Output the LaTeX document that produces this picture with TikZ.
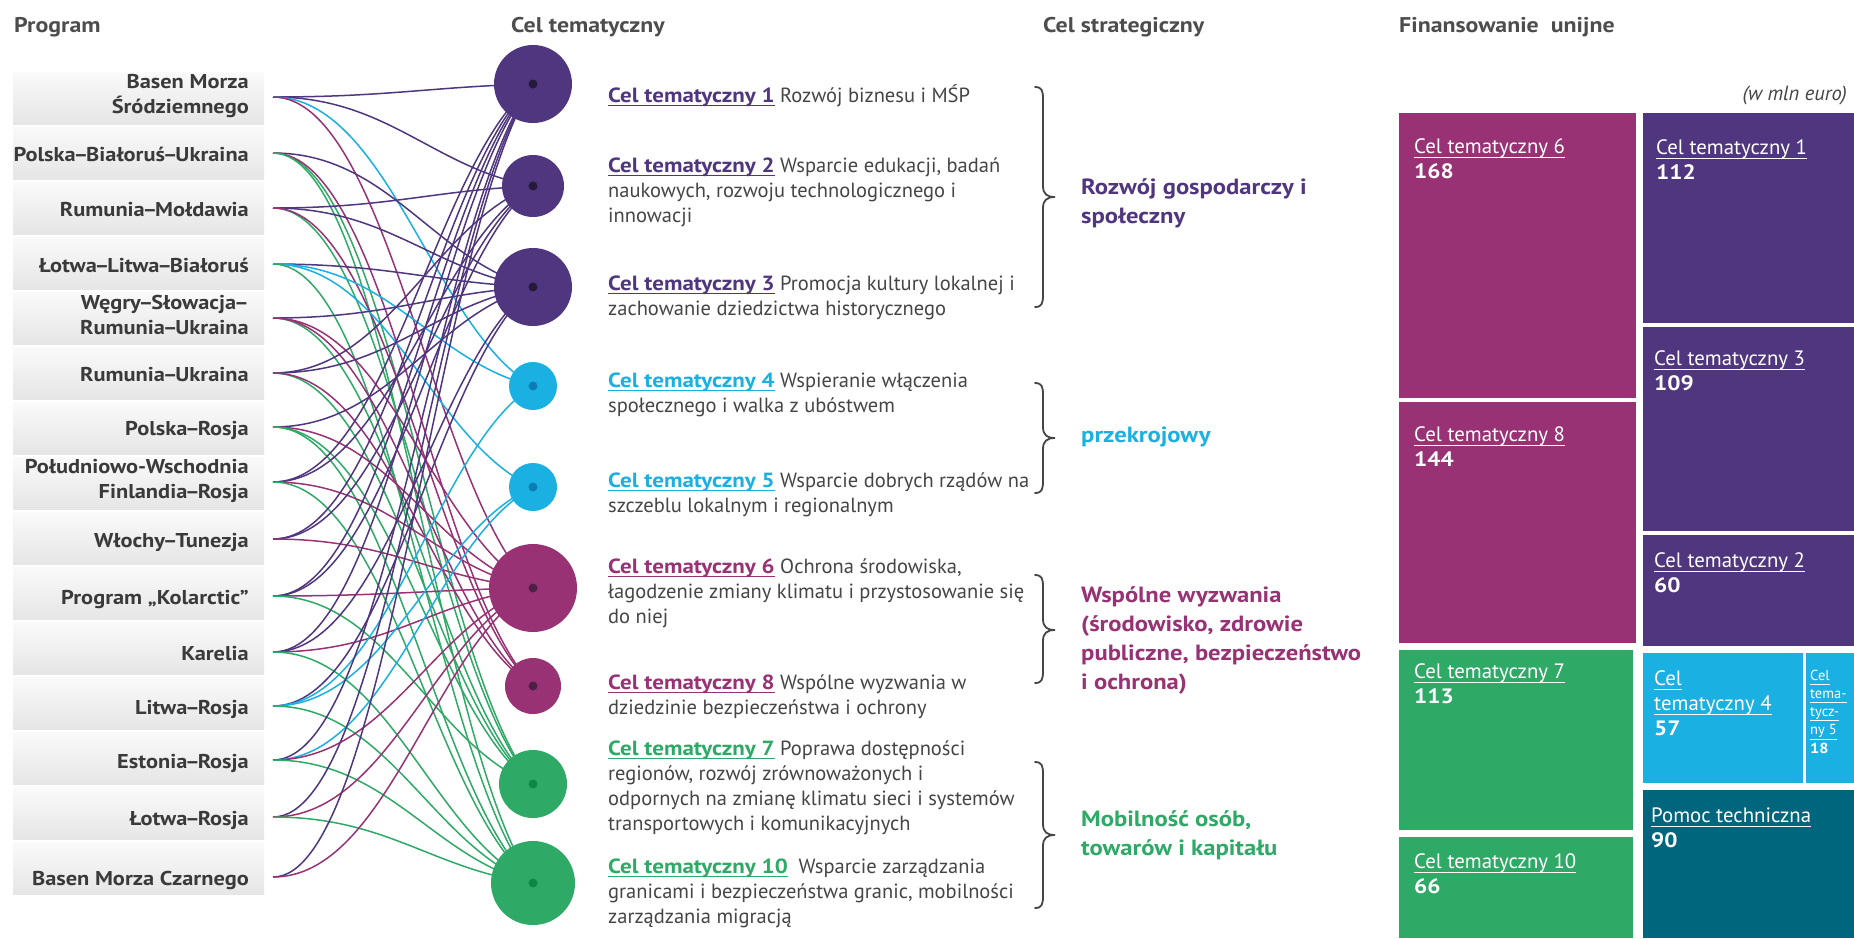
\documentclass[tikz,border=0pt]{standalone}
\usepackage{fontspec}
\setmainfont{PT Sans}[BoldFeatures={FakeStretch=1.12}]
\usetikzlibrary{calc}
\definecolor{purp}{HTML}{4F367E}
\definecolor{cyanB}{HTML}{1AB0E2}
\definecolor{mage}{HTML}{983275}
\definecolor{gree}{HTML}{2EA966}
\definecolor{tealB}{HTML}{00667D}
\definecolor{purpD}{HTML}{251A3A}
\definecolor{cyanD}{HTML}{0D7DB6}
\definecolor{mageD}{HTML}{4C2045}
\definecolor{greeD}{HTML}{0B8A45}
\definecolor{txt}{HTML}{3A3A3A}
\definecolor{body}{HTML}{454545}
\definecolor{ttl}{HTML}{4D4D4D}
\colorlet{colc1}{purp}\colorlet{colc2}{purp}\colorlet{colc3}{purp}
\colorlet{colc4}{cyanB}\colorlet{colc5}{cyanB}
\colorlet{colc6}{mage}\colorlet{colc8}{mage}
\colorlet{colc7}{gree}\colorlet{colc10}{gree}
\newcommand\myul[1]{\setbox0=\hbox{#1}\rlap{\rule[-4pt]{\wd0}{1.2pt}}\box0}
\newcommand\tul[1]{\setbox0=\hbox{#1}\rlap{\rule[-4.5pt]{\wd0}{0.9pt}}\box0}
\newcommand\rgtlines[1]{\begin{tabular}[t]{@{}r@{}}#1\end{tabular}}
\newcommand\lftlines[1]{\begin{tabular}[t]{@{}l@{}}#1\end{tabular}}
\newcommand\ctl[2]{\textcolor{#1}{\textbf{\myul{Cel tematyczny #2}}}}
\newcommand\dsh{\kern-2.2pt–\kern-2.2pt}
\begin{document}
\begin{tikzpicture}[x=1pt,y=-1pt,
  prog/.style={anchor=base east, inner sep=0pt, text=txt, font=\bfseries\fontsize{20}{25}\selectfont},
  desc/.style={anchor=base west, inner sep=0pt, text=body, font=\fontsize{20.5}{25.3}\selectfont},
  strat/.style={anchor=base west, inner sep=0pt, font=\bfseries\fontsize{22}{29}\selectfont},
  ttl/.style={anchor=base west, inner sep=0pt, text=ttl, font=\bfseries\fontsize{21.3}{26}\selectfont},
  ctc/.style={circle, inner sep=0pt, minimum size=#1},
  conn/.style={line width=1.5pt},
  tml/.style={anchor=base west, inner sep=0pt, text=white, font=\fontsize{20.8}{25}\selectfont},
  brc/.style={draw=body, line width=1.8pt, line cap=round}
]
\useasboundingbox (0,0) rectangle (1854,938);
\fill[white] (0,0) rectangle (1854,938);

% titles
\node[ttl] (t1) at (14,32) {Program};
\node[ttl] (t2) at (511,32) {Cel tematyczny};
\node[ttl] (t3) at (1043,32) {Cel strategiczny};
\node[ttl] (t4) at (1399,32) {Finansowanie\ \ unijne};

% program boxes
\foreach \i in {0,...,14}{
  \shade[top color=white!98!black, bottom color=black!10] (13,{72+\i*55.05}) rectangle (264,{124+\i*55.05});
}
\node[prog] (prog1) at (249,88) {\rgtlines{Basen Morza\\Śródziemnego}};
\node[prog] (prog2) at (249,161) {Polska\dsh Białoruś\dsh Ukraina};
\node[prog] (prog3) at (249,216) {Rumunia\dsh Mołdawia};
\node[prog] (prog4) at (249,272) {Łotwa\dsh Litwa\dsh Białoruś};
\node[prog] (prog5) at (249,309) {\rgtlines{Węgry\dsh Słowacja\dsh\kern2.2pt\\Rumunia\dsh Ukraina}};
\node[prog] (prog6) at (249,381) {Rumunia\dsh Ukraina};
\node[prog] (prog7) at (249,435) {Polska\dsh Rosja};
\node[prog] (prog8) at (249,473) {\rgtlines{Południowo-Wschodnia\\Finlandia\dsh Rosja}};
\node[prog] (prog9) at (249,547) {Włochy\dsh Tunezja};
\node[prog] (prog10) at (249,604) {Program „Kolarctic”};
\node[prog] (prog11) at (249,660) {Karelia};
\node[prog] (prog12) at (249,714) {Litwa\dsh Rosja};
\node[prog] (prog13) at (249,768) {Estonia\dsh Rosja};
\node[prog] (prog14) at (249,825) {Łotwa\dsh Rosja};
\node[prog] (prog15) at (249,885) {Basen Morza Czarnego};

% connector start points
\foreach \i/\y in {1/97,2/153,3/208,4/264,5/318,6/373,7/427,8/482,9/539,10/596,11/652,12/706,13/760,14/817,15/877}{
  \coordinate (pa\i) at (273,\y);
}

% circles
\node[ctc=78pt, fill=purp] (ct1) at (533,84) {};
\node[ctc=62pt, fill=purp] (ct2) at (533,186) {};
\node[ctc=78pt, fill=purp] (ct3) at (533,287) {};
\node[ctc=48pt, fill=cyanB] (ct4) at (533,386) {};
\node[ctc=48pt, fill=cyanB] (ct5) at (533,487) {};
\node[ctc=88pt, fill=mage] (ct6) at (533,588) {};
\node[ctc=56pt, fill=mage] (ct8) at (533,686) {};
\node[ctc=68pt, fill=gree] (ct7) at (533,784) {};
\node[ctc=84pt, fill=gree] (ct10) at (533,883) {};

% connectors
\foreach \p/\c in {1/1,1/2,1/4,1/6,
  2/3,2/7,2/8,2/10,
  3/2,3/3,3/7,3/8,
  4/3,4/4,4/5,4/10,
  5/3,5/6,5/7,5/8,
  6/2,6/3,6/7,6/8,
  7/3,7/6,7/7,7/10,
  8/1,8/2,8/6,8/10,
  9/1,9/2,9/6,
  10/1,10/2,10/6,10/7,
  11/1,11/3,11/6,11/10,
  12/3,12/4,12/5,12/10,
  13/1,13/5,13/6,13/10,
  14/1,14/6,14/10,
  15/1,15/6}{
  \draw[conn, draw=colc\c] (pa\p) .. controls +(115,0) and ($(ct\c.center)!0.2!(pa\p)+(-48,0)$) .. (ct\c.center);
}

% centre dots
\foreach \c/\k in {1/purpD,2/purpD,3/purpD,4/cyanD,5/cyanD,6/mageD,8/mageD,7/greeD,10/greeD}{
  \fill[\k] (ct\c.center) circle (4.5pt);
}

% descriptions
\node[desc] (d1) at (608,102) {\lftlines{\ctl{purp}{1} Rozwój biznesu i MŚP}};
\node[desc] (d2) at (608,172) {\lftlines{\ctl{purp}{2} Wsparcie edukacji, badań\\naukowych, rozwoju technologicznego i\\innowacji}};
\node[desc] (d3) at (608,290) {\lftlines{\ctl{purp}{3} Promocja kultury lokalnej i\\zachowanie dziedzictwa historycznego}};
\node[desc] (d4) at (608,387) {\lftlines{\ctl{cyanB}{4} Wspieranie włączenia\\społecznego i walka z ubóstwem}};
\node[desc] (d5) at (608,487) {\lftlines{\ctl{cyanB}{5} Wsparcie dobrych rządów na\\szczeblu lokalnym i regionalnym}};
\node[desc] (d6) at (608,573) {\lftlines{\ctl{mage}{6} Ochrona środowiska,\\łagodzenie zmiany klimatu i przystosowanie się\\do niej}};
\node[desc] (d8) at (608,689) {\lftlines{\ctl{mage}{8} Wspólne wyzwania w\\dziedzinie bezpieczeństwa i ochrony}};
\node[desc] (d7) at (608,755) {\lftlines{\ctl{gree}{7} Poprawa dostępności\\regionów, rozwój zrównoważonych i\\odpornych na zmianę klimatu sieci i systemów\\transportowych i komunikacyjnych}};
\node[desc] (d10) at (608,873) {\lftlines{\ctl{gree}{10}\ \ Wsparcie zarządzania\\granicami i bezpieczeństwa granic, mobilności\\zarządzania migracją}};

% braces
\foreach \n/\t/\m/\b in {1/87/197/307, 2/383/438/493, 3/575/630/683, 4/762/835/908}{
  \draw[brc] (1035,\t) .. controls (1042,\t) and (1043,\t+4) .. (1043,\t+12) -- (1043,\m-11)
    .. controls (1043,\m-3) and (1047,\m) .. (1055,\m)
    .. controls (1047,\m) and (1043,\m+3) .. (1043,\m+11) -- (1043,\b-12)
    .. controls (1043,\b-4) and (1042,\b) .. (1035,\b);
}

% strategic goals
\node[strat, text=purp] (s1) at (1081,194) {\lftlines{Rozwój gospodarczy i\\społeczny}};
\node[strat, text=cyanB] (s2) at (1081,442) {przekrojowy};
\node[strat, text=mage] (s3) at (1081,602) {\lftlines{Wspólne wyzwania\\(środowisko, zdrowie\\publiczne, bezpieczeństwo\\i ochrona)}};
\node[strat, text=gree] (s4) at (1081,826) {\lftlines{Mobilność osób,\\towarów i kapitału}};

% treemap
\node[anchor=base east, inner sep=0pt, text=body, font=\itshape\fontsize{20.5}{24}\selectfont] (unit) at (1847,100) {(w mln euro)};
\fill[mage] (1399,113) rectangle (1636,398);
\fill[mage] (1399,402) rectangle (1636,643);
\fill[gree] (1399,650) rectangle (1633,830);
\fill[gree] (1399,837) rectangle (1633,938);
\fill[purp] (1643,113) rectangle (1854,323);
\fill[purp] (1643,327) rectangle (1854,531);
\fill[purp] (1643,535) rectangle (1854,646);
\fill[cyanB] (1643,653) rectangle (1803,783);
\fill[cyanB] (1806,653) rectangle (1854,783);
\fill[tealB] (1643,790) rectangle (1854,938);

\node[tml] (m6) at (1414,153) {\lftlines{\tul{Cel tematyczny 6}\\\textbf{168}}};
\node[tml] (m8) at (1414,441) {\lftlines{\tul{Cel tematyczny 8}\\\textbf{144}}};
\node[tml] (m7) at (1414,678) {\lftlines{\tul{Cel tematyczny 7}\\\textbf{113}}};
\node[tml] (m10) at (1414,868) {\lftlines{\tul{Cel tematyczny 10}\\\textbf{66}}};
\node[tml] (m1) at (1656,154) {\lftlines{\tul{Cel tematyczny 1}\\\textbf{112}}};
\node[tml] (m3) at (1654,365) {\lftlines{\tul{Cel tematyczny 3}\\\textbf{109}}};
\node[tml] (m2) at (1654,567) {\lftlines{\tul{Cel tematyczny 2}\\\textbf{60}}};
\node[tml] (m4) at (1654,685) {\lftlines{\tul{Cel}\\\tul{tematyczny 4}\\\textbf{57}}};
\node[tml, font=\fontsize{14.5}{18.3}\selectfont] (m5) at (1810,680) {\lftlines{\tul{Cel}\\\tul{tema-}\\\tul{tycz-}\\\tul{ny 5}\\\textbf{18}}};
\node[tml] (mta) at (1651,822) {\lftlines{\tul{Pomoc techniczna}\\\textbf{90}}};
\end{tikzpicture}
\end{document}
